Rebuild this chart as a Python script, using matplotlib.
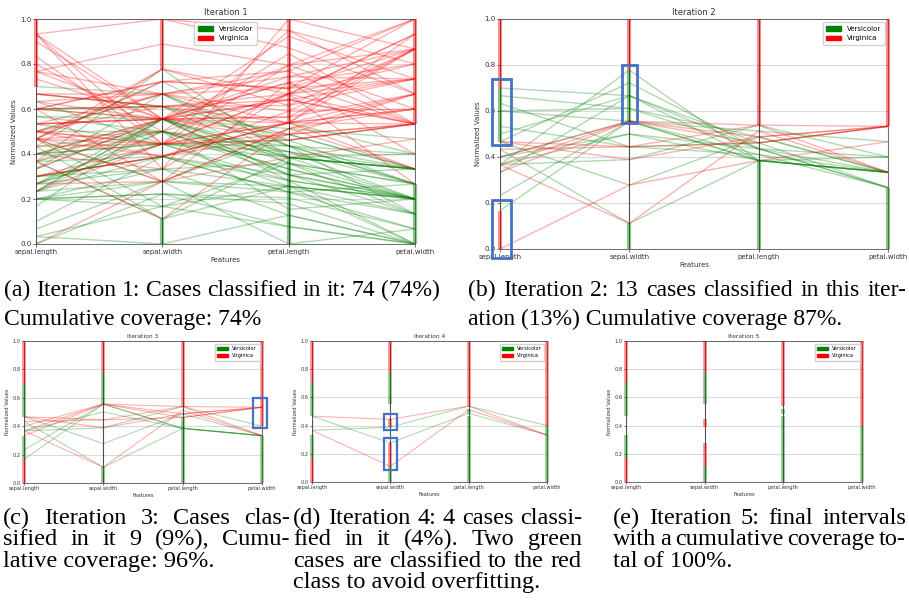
import matplotlib
matplotlib.use('Agg')
import matplotlib.pyplot as plt
from matplotlib.patches import Patch, Rectangle
import numpy as np

features = ['sepal.length', 'sepal.width', 'petal.length', 'petal.width']

# iris rows 51-100 (Versicolor) and 101-150 (Virginica)
versicolor_sepal_length = [7.0, 6.4, 6.9, 5.5, 6.5, 5.7, 6.3, 4.9, 6.6, 5.2, 5.0, 5.9, 6.0, 6.1, 5.6, 6.7, 5.6,
                           5.8, 6.2, 5.6, 5.9, 6.1, 6.3, 6.1, 6.4, 6.6, 6.8, 6.7, 6.0, 5.7, 5.5, 5.5, 5.8, 6.0,
                           5.4, 6.0, 6.7, 6.3, 5.6, 5.5, 5.5, 6.1, 5.8, 5.0, 5.6, 5.7, 5.7, 6.2, 5.1, 5.7]
versicolor_sepal_width = [3.2, 3.2, 3.1, 2.3, 2.8, 2.8, 3.3, 2.4, 2.9, 2.7, 2.0, 3.0, 2.2, 2.9, 2.9, 3.1, 3.0,
                          2.7, 2.2, 2.5, 3.2, 2.8, 2.5, 2.8, 2.9, 3.0, 2.8, 3.0, 2.9, 2.6, 2.4, 2.4, 2.7, 2.7,
                          3.0, 3.4, 3.1, 2.3, 3.0, 2.5, 2.6, 3.0, 2.6, 2.3, 2.7, 3.0, 2.9, 2.9, 2.5, 2.8]
versicolor_petal_length = [4.7, 4.5, 4.9, 4.0, 4.6, 4.5, 4.7, 3.3, 4.6, 3.9, 3.5, 4.2, 4.0, 4.7, 3.6, 4.4, 4.5,
                           4.1, 4.5, 3.9, 4.8, 4.0, 4.9, 4.7, 4.3, 4.4, 4.8, 5.0, 4.5, 3.5, 3.8, 3.7, 3.9, 5.1,
                           4.5, 4.5, 4.7, 4.4, 4.1, 4.0, 4.4, 4.6, 4.0, 3.3, 4.2, 4.2, 4.2, 4.3, 3.0, 4.1]
versicolor_petal_width = [1.4, 1.5, 1.5, 1.3, 1.5, 1.3, 1.6, 1.0, 1.3, 1.4, 1.0, 1.5, 1.0, 1.4, 1.3, 1.4, 1.5,
                          1.0, 1.5, 1.1, 1.8, 1.3, 1.5, 1.2, 1.3, 1.4, 1.4, 1.7, 1.5, 1.0, 1.1, 1.0, 1.2, 1.6,
                          1.5, 1.6, 1.5, 1.3, 1.3, 1.3, 1.2, 1.4, 1.2, 1.0, 1.3, 1.2, 1.3, 1.3, 1.1, 1.3]
virginica_sepal_length = [6.3, 5.8, 7.1, 6.3, 6.5, 7.6, 4.9, 7.3, 6.7, 7.2, 6.5, 6.4, 6.8, 5.7, 5.8, 6.4, 6.5,
                          7.7, 7.7, 6.0, 6.9, 5.6, 7.7, 6.3, 6.7, 7.2, 6.2, 6.1, 6.4, 7.2, 7.4, 7.9, 6.4, 6.3,
                          6.1, 7.7, 6.3, 6.4, 6.0, 6.9, 6.7, 6.9, 5.8, 6.8, 6.7, 6.7, 6.3, 6.5, 6.2, 5.9]
virginica_sepal_width = [3.3, 2.7, 3.0, 2.9, 3.0, 3.0, 2.5, 2.9, 2.5, 3.6, 3.2, 2.7, 3.0, 2.5, 2.8, 3.2, 3.0,
                         3.8, 2.6, 2.2, 3.2, 2.8, 2.8, 2.7, 3.3, 3.2, 2.8, 3.0, 2.8, 3.0, 2.8, 3.8, 2.8, 2.8,
                         2.6, 3.0, 3.4, 3.1, 3.0, 3.1, 3.1, 3.1, 2.7, 3.2, 3.3, 3.0, 2.5, 3.0, 3.4, 3.0]
virginica_petal_length = [6.0, 5.1, 5.9, 5.6, 5.8, 6.6, 4.5, 6.3, 5.8, 6.1, 5.1, 5.3, 5.5, 5.0, 5.1, 5.3, 5.5,
                          6.7, 6.9, 5.0, 5.7, 4.9, 6.7, 4.9, 5.7, 6.0, 4.8, 4.9, 5.6, 5.8, 6.1, 6.4, 5.6, 5.1,
                          5.6, 6.1, 5.6, 5.5, 4.8, 5.4, 5.6, 5.1, 5.1, 5.9, 5.7, 5.2, 5.0, 5.2, 5.4, 5.1]
virginica_petal_width = [2.5, 1.9, 2.1, 1.8, 2.2, 2.1, 1.7, 1.8, 1.8, 2.5, 2.0, 1.9, 2.1, 2.0, 2.4, 2.3, 1.8,
                         2.2, 2.3, 1.5, 2.3, 2.0, 2.0, 1.8, 2.1, 1.8, 1.8, 1.8, 2.1, 1.6, 1.9, 2.0, 2.2, 1.5,
                         1.4, 2.3, 2.4, 1.8, 1.8, 2.1, 2.4, 2.3, 1.9, 2.3, 2.5, 2.3, 1.9, 2.0, 2.3, 1.8]

# cases (iris row numbers) still drawn as lines in each iteration
iter1_cases = list(range(51, 151))
iter2_cases = [51, 52, 53, 55, 57, 64, 67, 69, 71, 73, 77, 78, 79, 84, 85, 86, 87, 92,
               107, 120, 124, 127, 128, 134, 139, 150]
iter3_cases = [67, 69, 73, 79, 84, 85, 120, 124, 127, 128, 134, 139, 150]
iter4_cases = [73, 84, 120, 134]
iter5_cases = []

# class intervals drawn on the axes: (feature, low, high, class)
iter1_bars = [(0, 0.70, 1.0, 'r'), (1, 0.778, 1.0, 'r'), (1, 0.0, 0.111, 'g'),
              (2, 0.538, 1.0, 'r'), (2, 0.0, 0.385, 'g'), (3, 0.533, 1.0, 'r'), (3, 0.0, 0.267, 'g')]
iter2_bars = iter1_bars + [(0, 0.0, 0.167, 'r'), (0, 0.467, 0.70, 'g'), (1, 0.556, 0.778, 'g')]
iter3_bars = [(0, 0.70, 1.0, 'r'), (0, 0.467, 0.70, 'g'), (0, 0.167, 0.333, 'g'), (0, 0.0, 0.167, 'r'),
              (1, 0.778, 1.0, 'r'), (1, 0.556, 0.778, 'g'), (1, 0.0, 0.111, 'g'),
              (2, 0.538, 1.0, 'r'), (2, 0.0, 0.462, 'g'), (3, 0.40, 1.0, 'r'), (3, 0.0, 0.333, 'g')]
iter4_bars = [(0, 0.70, 1.0, 'r'), (0, 0.467, 0.70, 'g'), (0, 0.167, 0.333, 'g'), (0, 0.0, 0.167, 'r'),
              (1, 0.778, 1.0, 'r'), (1, 0.556, 0.778, 'g'), (1, 0.389, 0.444, 'r'), (1, 0.111, 0.278, 'r'),
              (1, 0.0, 0.111, 'g'), (2, 0.538, 1.0, 'r'), (2, 0.483, 0.516, 'g'), (2, 0.0, 0.465, 'g'),
              (3, 0.40, 1.0, 'r'), (3, 0.0, 0.40, 'g')]
iter5_bars = iter4_bars

# highlighted new intervals (blue boxes): (x0, y0, x1, y1)
iter2_boxes = [(-0.06, 0.452, 0.083, 0.738), (-0.06, -0.039, 0.083, 0.214), (0.941, 0.547, 1.057, 0.80)]
iter3_boxes = [(2.89, 0.385, 3.06, 0.596)]
iter4_boxes = [(0.92, 0.367, 1.09, 0.479), (0.92, 0.088, 1.09, 0.313)]

captions_a = ['(a) Iteration 1: Cases classified in it: 74 (74%)', 'Cumulative coverage: 74%']
captions_b = ['(b) Iteration 2: 13 cases classified in this iter-', 'ation (13%) Cumulative coverage 87%.']
captions_c = ['(c) Iteration 3: Cases clas-', 'sified in it 9 (9%), Cumu-', 'lative coverage: 96%.']
captions_d = ['(d) Iteration 4: 4 cases classi-', 'fied in it (4%). Two green',
              'cases are classified to the red', 'class to avoid overfitting.']
captions_e = ['(e) Iteration 5: final intervals', 'with a cumulative coverage to-', 'tal of 100%.']

GREEN, RED, BLUE = 'green', 'red', '#4472c4'

vers = np.array([versicolor_sepal_length, versicolor_sepal_width,
                 versicolor_petal_length, versicolor_petal_width]).T
virg = np.array([virginica_sepal_length, virginica_sepal_width,
                 virginica_petal_length, virginica_petal_width]).T
both = np.vstack([vers, virg])
lo, hi = both.min(axis=0), both.max(axis=0)
norm = (both - lo) / (hi - lo)   # row k is iris case 51 + k

W, H = 909, 606
fig = plt.figure(figsize=(W / 100, H / 100), dpi=100)


def panel(rect, n, cases, bars, boxes, fs, lw_line, lw_bar, lw_box, legend_loc):
    ax = fig.add_axes([rect[0] / W, 1 - rect[3] / H, (rect[2] - rect[0]) / W, (rect[3] - rect[1]) / H])
    xs = np.arange(4)
    green_cases = [c for c in cases if c <= 100]
    red_cases = [c for c in cases if c > 100]
    for c in green_cases:
        ax.plot(xs, norm[c - 51], color=GREEN, alpha=0.3, lw=lw_line)
    for c in red_cases:
        ax.plot(xs, norm[c - 51], color=RED, alpha=0.3, lw=lw_line)
    for f, y0, y1, k in bars:
        ax.plot([f, f], [y0, y1], color=GREEN if k == 'g' else RED, alpha=0.45,
                lw=lw_bar, solid_capstyle='butt', zorder=3, clip_on=False)
    for i in xs:
        ax.axvline(i, color='#222222', lw=0.8, alpha=0.8, zorder=2)
    for x0, y0, x1, y1 in boxes:
        ax.add_patch(Rectangle((x0, y0), x1 - x0, y1 - y0, fill=False, edgecolor=BLUE,
                               lw=lw_box, clip_on=False, zorder=5))
    ax.set_xlim(0, 3)
    ax.set_ylim(0, 1)
    ax.set_xticks(xs)
    ax.set_xticklabels(features)
    ax.set_yticks(np.linspace(0, 1, 6))
    ax.set_yticklabels(['%.1f' % v for v in np.linspace(0, 1, 6)])
    ax.yaxis.grid(True, color='#dadada', lw=0.8)
    ax.set_axisbelow(True)
    ax.tick_params(labelsize=fs, length=fs * 0.4, width=0.5, pad=fs * 0.25, colors='#333333')
    for s in ax.spines.values():
        s.set_linewidth(0.6)
        s.set_color('#555555')
    ax.set_title('Iteration %d' % n, fontsize=fs * 1.2, pad=fs * 0.6, color='#333333')
    ax.set_xlabel('Features', fontsize=fs, labelpad=fs * 0.35, color='#333333')
    ax.set_ylabel('Normalized Values', fontsize=fs, labelpad=fs * 0.5, color='#333333')
    handles = [Patch(color=GREEN, label='Versicolor'), Patch(color=RED, label='Virginica')]
    ax.legend(handles=handles, loc=legend_loc, fontsize=fs, handlelength=2.2, handleheight=0.6,
              borderpad=0.5, framealpha=0.9, edgecolor='#cccccc')
    return ax


panel((36, 19, 415, 244), 1, iter1_cases, iter1_bars, [], 5.0, 1.0, 3.0, 2.0, 'upper center')
panel((500, 19, 888, 249), 2, iter2_cases, iter2_bars, iter2_boxes, 5.0, 1.0, 3.0, 2.0, 'upper right')
panel((24, 341, 262, 483), 3, iter3_cases, iter3_bars, iter3_boxes, 3.6, 0.8, 2.6, 1.6, 'upper right')
panel((312, 341, 547, 482), 4, iter4_cases, iter4_bars, iter4_boxes, 3.6, 0.8, 2.6, 1.6, 'upper right')
panel((626, 341, 862, 482), 5, iter5_cases, iter5_bars, [], 3.6, 0.8, 2.6, 1.6, 'upper right')

# captions, justified like the paper's columns
renderer = fig.canvas.get_renderer()


def caption(lines, x0, x1, base, pitch, size):
    font = dict(family='Liberation Serif', fontsize=size, va='baseline', ha='left', color='black')
    for k, line in enumerate(lines):
        y = 1 - (base + k * pitch) / H
        if k == len(lines) - 1 and len(lines) > 1:
            fig.text(x0 / W, y, line, **font)
            continue
        words = line.split(' ')
        texts = [fig.text(0, y, w, **font) for w in words]
        widths = [t.get_window_extent(renderer).width for t in texts]
        gap = (x1 - x0 - sum(widths)) / (len(words) - 1)
        x = x0
        for t, w in zip(texts, widths):
            t.set_x(x / W)
            x += w + gap


caption(captions_a, 4, 440, 296, 29, 17)
caption(captions_b, 468, 906, 296, 29, 17)
caption(captions_c, 3, 290, 524, 21.3, 17.5)
caption(captions_d, 293, 582, 524, 21.3, 17.5)
caption(captions_e, 613, 906, 524, 21.3, 17.5)

fig.savefig('out.png', dpi=100)
